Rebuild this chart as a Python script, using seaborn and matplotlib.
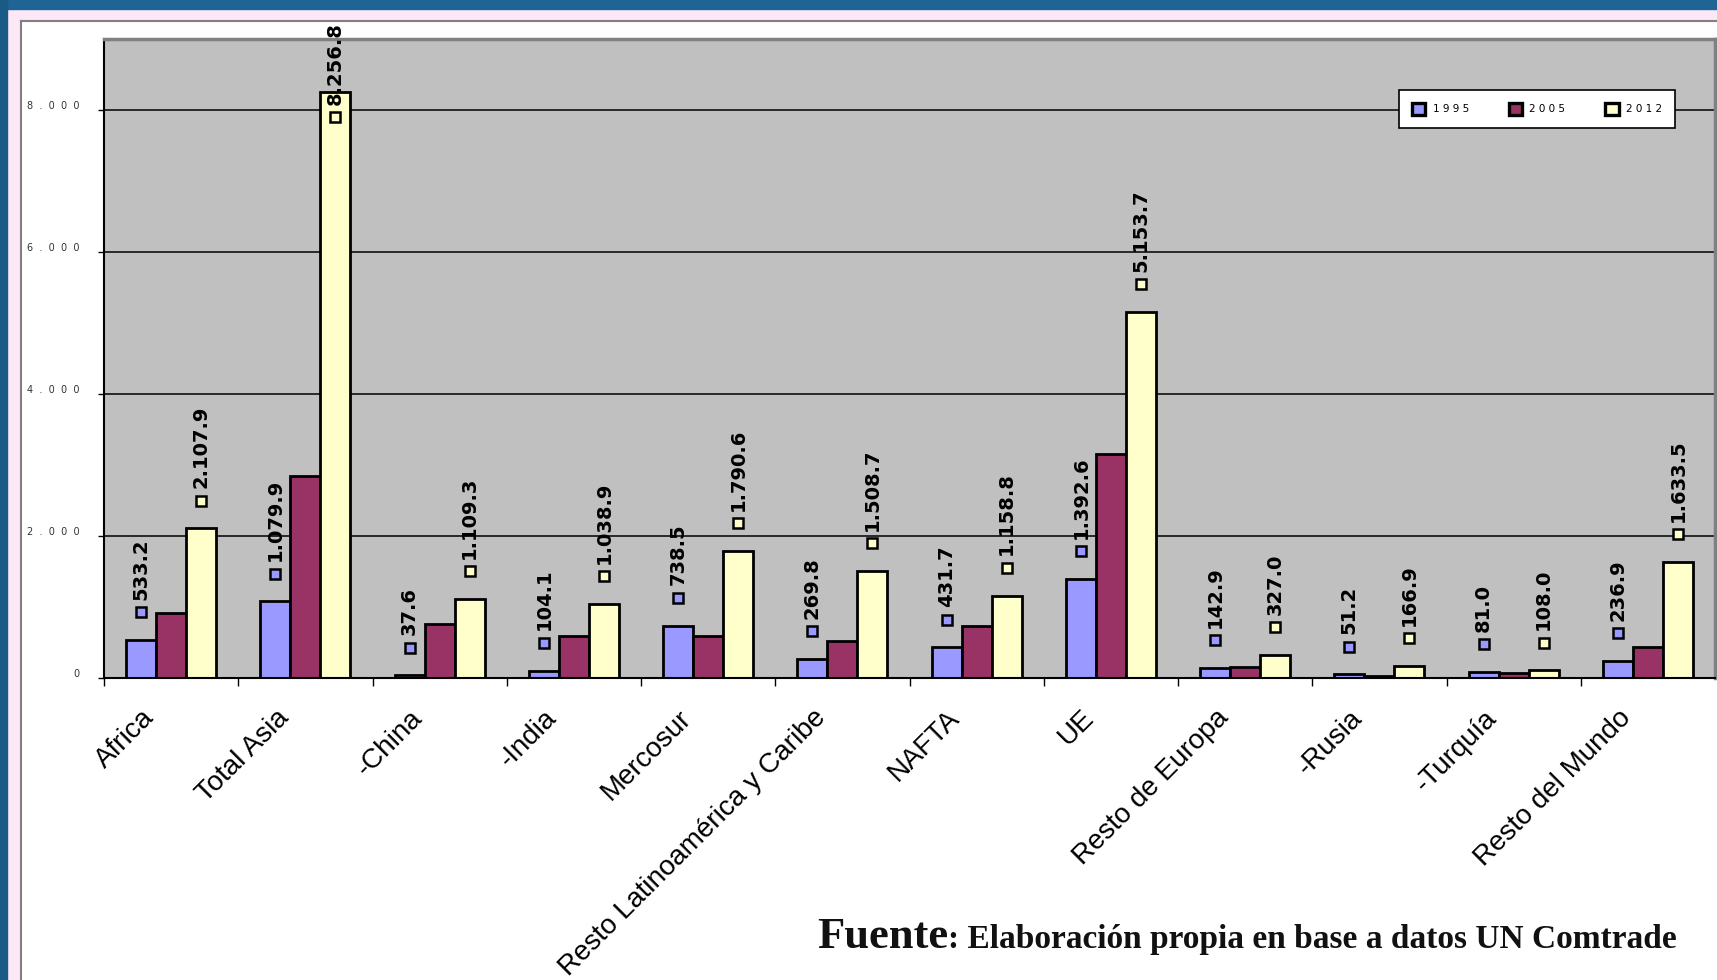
import numpy as np
import pandas as pd
import matplotlib
matplotlib.use("Agg")
import matplotlib.pyplot as plt
import seaborn as sns
from matplotlib.patches import Patch, Rectangle
from matplotlib.lines import Line2D
from matplotlib.transforms import ScaledTranslation

# === Data ===
regions = ["Africa", "Total Asia", "-China", "-India", "Mercosur",
           "Resto Latinoamérica y Caribe", "NAFTA", "UE", "Resto de Europa",
           "-Rusia", "-Turquía", "Resto del Mundo"]
years = ["1995", "2005", "2012"]
v1995 = [533.2, 1079.9, 37.6, 104.1, 738.5, 269.8, 431.7, 1392.6, 142.9, 51.2, 81.0, 236.9]
v2005 = [915, 2845, 760, 590, 590, 520, 730, 3155, 150, 30, 65, 440]
v2012 = [2107.9, 8256.8, 1109.3, 1038.9, 1790.6, 1508.7, 1158.8, 5153.7, 327.0, 166.9, 108.0, 1633.5]
colors = ["#9999FF", "#993366", "#FFFFCC"]
legend_labels = ["1 9 9 5", "2 0 0 5", "2 0 1 2"]
yticks = [0, 2000, 4000, 6000, 8000]
ytick_labels = ["0", "2  .  0  0  0", "4  .  0  0  0", "6  .  0  0  0", "8  .  0  0  0"]
source_head = "Fuente"
source_rest = ": Elaboración propia en base a datos UN Comtrade"

df = pd.DataFrame({
    "region": regions * 3,
    "year": np.repeat(years, len(regions)),
    "value": v1995 + v2005 + v2012,
})

W, H = 1717, 980
fig = plt.figure(figsize=(W / 100, H / 100), dpi=100)
fig.patch.set_facecolor("white")

# --- frame around the slide ---
fig.add_artist(Rectangle((7 / W, 0), 13 / W, 1 - 9 / H, transform=fig.transFigure, color="#FDE8F8", zorder=0))
fig.add_artist(Rectangle((7 / W, 1 - 21 / H), 1, 12 / H, transform=fig.transFigure, color="#FDE8F8", zorder=0))
fig.add_artist(Rectangle((0, 1 - 9 / H), 1, 9 / H, transform=fig.transFigure, color="#1E6494", zorder=1))
fig.add_artist(Rectangle((0, 0), 7 / W, 1, transform=fig.transFigure, color="#1A5A86", zorder=1))
fig.add_artist(Line2D([20.5 / W, 20.5 / W], [0, 1 - 21 / H], transform=fig.transFigure, color="#808080", lw=1.5))
fig.add_artist(Line2D([20.5 / W, 1], [1 - 21.5 / H, 1 - 21.5 / H], transform=fig.transFigure, color="#808080", lw=1.5))

ax = fig.add_axes([104 / W, 1 - 678 / H, (1715 - 104) / W, (678 - 39) / H])
ax.set_facecolor("#C0C0C0")

sns.barplot(data=df, x="region", y="value", hue="year", order=regions, hue_order=years,
            palette=colors, saturation=1, width=0.67, gap=0, edgecolor="black",
            linewidth=2, errorbar=None, legend=False, ax=ax)

ax.set_xlim(-0.5, len(regions) - 0.5)
ax.set_ylim(0, 9000)
ax.set_xlabel("")
ax.set_ylabel("")
ax.set_axisbelow(True)
ax.yaxis.grid(True, color="black", lw=1.1)

for side in ["left", "bottom"]:
    ax.spines[side].set_color("black")
    ax.spines[side].set_linewidth(1.5)
for side in ["top", "right"]:
    ax.spines[side].set_color("#808080")
    ax.spines[side].set_linewidth(2.5)

# y axis
ax.set_yticks(yticks, labels=ytick_labels)
ax.tick_params(axis="y", length=4.5, width=1, pad=13, labelsize=7, labelcolor="#333333")
for t in ax.get_yticklabels():
    t.set_transform(t.get_transform() + ScaledTranslation(0, 0.05, fig.dpi_scale_trans))

# x axis: labels at group centres, tick marks at group boundaries
ax.set_xticks(range(len(regions)), labels=regions)
ax.set_xticks(np.arange(-0.5, len(regions) - 1), minor=True)
ax.tick_params(axis="x", which="major", length=0, pad=0)
ax.tick_params(axis="x", which="minor", length=6, width=1, color="black")
for t in ax.get_xticklabels():
    t.set_rotation(45)
    t.set_ha("right")
    t.set_va("top")
    t.set_rotation_mode("anchor")
    t.set_fontsize(20)
    t.set_family("Liberation Sans")
    t.set_transform(t.get_transform() + ScaledTranslation(-0.30, -0.27, fig.dpi_scale_trans))

# legend
handles = [Patch(facecolor=c, edgecolor="black", linewidth=2.4) for c in colors]
leg = ax.legend(handles, legend_labels, loc="upper left",
                bbox_to_anchor=(0.804, 0.920, 0.171, 0.0), mode="expand", ncol=3,
                fontsize=7.5, frameon=True, fancybox=False, edgecolor="black", framealpha=1,
                borderpad=1.2, handlelength=1.3, handleheight=1.5, handletextpad=0.7,
                borderaxespad=0)
leg.get_frame().set_linewidth(1.2)

# data labels for 1995 and 2012
fig.canvas.draw()
renderer = fig.canvas.get_renderer()
top_px = H - 22
series = {0: v1995, 2: v2012}
for k, vals in series.items():
    cont = ax.containers[k]
    for bar, val in zip(cont.patches, vals):
        x = bar.get_x() + bar.get_width() / 2
        y = bar.get_height()
        lbl = f"{val:,.1f}".replace(",", ".")
        txt = ax.annotate(lbl, (x, y), xytext=(0, 29), textcoords="offset points",
                          rotation=90, ha="center", va="bottom", fontsize=14,
                          fontweight="bold", annotation_clip=False, zorder=5)
        bb = txt.get_window_extent(renderer)
        shift = max(0, bb.y1 - top_px) * 72 / 100
        txt.xyann = (0, 29 - shift)
        off = ScaledTranslation(0, (20 - shift) / 72, fig.dpi_scale_trans)
        ax.plot([x], [y], marker="s", ms=7.5, mfc=colors[k], mec="black", mew=1.8,
                transform=ax.transData + off, clip_on=False, zorder=5)

# source note
base_y = 1 - 948 / H
rest = fig.text(1677 / W, base_y, source_rest, ha="right", va="baseline", fontsize=24,
                fontweight="bold", family="Liberation Serif", color="#111111")
fig.canvas.draw()
bb = rest.get_window_extent(fig.canvas.get_renderer())
fig.text(bb.x0 / W, base_y, source_head, ha="right", va="baseline", fontsize=32,
         fontweight="bold", family="Liberation Serif", color="#111111")

fig.savefig("out.png", dpi=100)
